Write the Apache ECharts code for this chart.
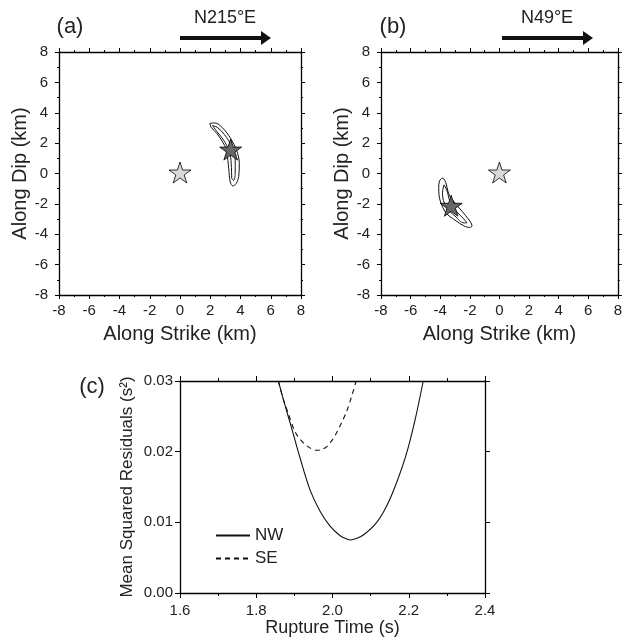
<!DOCTYPE html>
<html>
<head>
<meta charset="utf-8">
<script src="https://cdn.jsdelivr.net/npm/echarts@6/dist/echarts.min.js"></script>
<style>
html,body{margin:0;padding:0;background:#fff;}
#chart{width:625px;height:641px;}
</style>
</head>
<body>
<div id="chart"></div>
<script>
// ---------- data ----------
const strikeRange = [-8, 8];
const dipRange = [-8, 8];
const spatialTickStep = 2;

// Panel (a): N215°E
const contourA_outerStrike = [1.98, 2.30, 2.80, 3.35, 3.75, 3.92, 3.88, 3.70, 3.50, 3.32, 3.22, 3.10, 2.95, 2.45, 2.05, 1.98];
const contourA_outerDip    = [3.30, 3.33, 3.02, 2.30, 1.50, 0.67, -0.20, -0.68, -0.82, -0.55, 0.35, 1.35, 1.85, 2.62, 3.05, 3.30];
const contourA_innerStrike = [2.15, 2.45, 2.95, 3.40, 3.65, 3.65, 3.55, 3.42, 3.40, 3.30, 2.95, 2.45, 2.15];
const contourA_innerDip    = [3.15, 3.05, 2.55, 1.80, 0.90, 0.00, -0.45, -0.30, 0.40, 1.30, 2.10, 2.75, 3.15];
const hypoA = [0, 0];
const bestA = [3.35, 1.51];

// Panel (b): N49°E
const contourB_outerStrike = [-3.88, -4.05, -4.10, -4.00, -3.60, -3.00, -2.40, -2.00, -1.85, -1.95, -2.30, -2.78, -3.20, -3.44, -3.62, -3.80, -3.88];
const contourB_outerDip    = [-0.30, -0.50, -1.00, -1.80, -2.60, -3.07, -3.45, -3.55, -3.45, -3.20, -2.75, -2.20, -1.70, -1.31, -0.60, -0.32, -0.30];
const contourB_innerStrike = [-3.75, -3.85, -3.60, -3.00, -2.40, -2.20, -2.40, -2.90, -3.35, -3.55, -3.75];
const contourB_innerDip    = [-0.75, -1.30, -2.20, -2.80, -3.25, -3.25, -3.00, -2.50, -1.80, -1.10, -0.75];
const hypoB = [0, 0];
const bestB = [-3.26, -2.19];

// Panel (c)
const timeRange = [1.6, 2.4];
const msrRange = [0, 0.03];
const nwTime = [1.858, 1.869, 1.880, 1.893, 1.915, 1.941, 1.967, 1.993, 2.020, 2.035, 2.048, 2.062, 2.081, 2.116, 2.142, 2.168, 2.195, 2.217, 2.238];
const nwMsr  = [0.0300, 0.0278, 0.0257, 0.0233, 0.0191, 0.0146, 0.0116, 0.0095, 0.0081, 0.0077, 0.0075, 0.0077, 0.0082, 0.0100, 0.0123, 0.0156, 0.0199, 0.0246, 0.0300];
const seTime = [1.858, 1.870, 1.884, 1.902, 1.924, 1.942, 1.958, 1.972, 1.985, 2.000, 2.011, 2.024, 2.037, 2.049, 2.062];
const seMsr  = [0.0300, 0.0276, 0.0254, 0.0228, 0.0212, 0.0205, 0.0202, 0.0203, 0.0207, 0.0217, 0.0227, 0.0241, 0.0257, 0.0276, 0.0300];

const panelLabels = ['(a)', '(b)', '(c)'];
const azimuthLabels = ['N215°E', 'N49°E'];

// ---------- helpers ----------
const FONT = '"Liberation Sans", Arial, Helvetica, sans-serif';
const TXT = '#222';
const zip = (a, b) => a.map((v, i) => [v, b[i]]);
const STAR = 'path://M50,0 L61.23,34.55 L97.55,34.55 L68.17,55.9 L79.39,90.45 L50,69.1 L20.61,90.45 L31.83,55.9 L2.45,34.55 L38.77,34.55 Z';

const lineCommon = {color: '#000', width: 1.3};

function spatialX(grid, pos, withLabel) {
  return {
    gridIndex: grid, type: 'value', position: pos,
    min: strikeRange[0], max: strikeRange[1], interval: spatialTickStep,
    axisLine: {show: true, onZero: false, lineStyle: lineCommon},
    axisTick: {show: true, inside: false, length: 4, lineStyle: {color: '#000', width: 1}},
    minorTick: {show: true, splitNumber: 2, length: 2, lineStyle: {color: '#000', width: 1}},
    splitLine: {show: false},
    axisLabel: {show: withLabel, margin: 8, fontSize: 15, color: TXT, fontFamily: FONT},
    name: withLabel ? 'Along Strike (km)' : '',
    nameLocation: 'middle', nameGap: 29,
    nameTextStyle: {fontSize: 20, color: TXT, fontFamily: FONT}
  };
}
function spatialY(grid, pos, withLabel) {
  return {
    gridIndex: grid, type: 'value', position: pos,
    min: dipRange[0], max: dipRange[1], interval: spatialTickStep,
    axisLine: {show: true, onZero: false, lineStyle: lineCommon},
    axisTick: {show: true, inside: false, length: 4, lineStyle: {color: '#000', width: 1}},
    minorTick: {show: true, splitNumber: 2, length: 2, lineStyle: {color: '#000', width: 1}},
    splitLine: {show: false},
    axisLabel: {show: withLabel, margin: 11, fontSize: 15, color: TXT, fontFamily: FONT},
    name: withLabel ? 'Along Dip (km)' : '',
    nameLocation: 'middle', nameGap: 28,
    nameTextStyle: {fontSize: 20, color: TXT, fontFamily: FONT}
  };
}
function timeX(pos, withLabel) {
  return {
    gridIndex: 2, type: 'value', position: pos,
    min: timeRange[0], max: timeRange[1], interval: 0.2,
    axisLine: {show: true, onZero: false, lineStyle: lineCommon},
    axisTick: {show: true, inside: false, length: 5, lineStyle: {color: '#000', width: 1}},
    minorTick: {show: true, splitNumber: 2, length: 3, lineStyle: {color: '#000', width: 1}},
    splitLine: {show: false},
    axisLabel: {show: withLabel, margin: 10, fontSize: 15, color: TXT, fontFamily: FONT,
      formatter: v => v.toFixed(1)},
    name: withLabel ? 'Rupture Time (s)' : '',
    nameLocation: 'middle', nameGap: 20,
    nameTextStyle: {fontSize: 18, color: TXT, fontFamily: FONT}
  };
}
function msrY(pos, withLabel) {
  return {
    gridIndex: 2, type: 'value', position: pos,
    min: msrRange[0], max: msrRange[1], interval: 0.01,
    axisLine: {show: true, onZero: false, lineStyle: lineCommon},
    axisTick: {show: true, inside: false, length: 5, lineStyle: {color: '#000', width: 1}},
    splitLine: {show: false},
    axisLabel: {show: withLabel, margin: 7, fontSize: 15, color: TXT, fontFamily: FONT,
      formatter: v => v.toFixed(2)},
    name: withLabel ? 'Mean Squared Residuals (s²)' : '',
    nameLocation: 'middle', nameGap: 44,
    nameTextStyle: {fontSize: 17, color: TXT, fontFamily: FONT}
  };
}

function contour(xi, xs, ys) {
  return {
    type: 'line', xAxisIndex: xi, yAxisIndex: xi, data: zip(xs, ys),
    symbol: 'none', smooth: 0.35, silent: true, z: 2,
    lineStyle: {color: '#111', width: 1}
  };
}
function star(xi, pt, fill) {
  return {
    type: 'scatter', xAxisIndex: xi, yAxisIndex: xi, data: [pt],
    symbol: STAR, symbolSize: [22, 21], symbolOffset: [0, -1], z: 4,
    itemStyle: {color: fill, borderColor: '#000', borderWidth: 0.8, opacity: 1}
  };
}

function arrow(x1, x2, y) {
  return [
    {type: 'line', shape: {x1: x1, y1: y, x2: x2 - 8, y2: y}, style: {stroke: '#111', lineWidth: 4}},
    {type: 'polygon', shape: {points: [[x2 - 10, y - 7], [x2, y], [x2 - 10, y + 7]]}, style: {fill: '#111'}}
  ];
}
function label(text, x, y, size) {
  return {type: 'text', x: x, y: y,
    style: {text: text, align: 'center', verticalAlign: 'middle', font: size + 'px ' + FONT, fill: TXT}};
}

const option = {
  animation: false,
  backgroundColor: '#fff',
  grid: [
    {left: 59, top: 52, width: 242, height: 243},
    {left: 381, top: 52, width: 242, height: 243},
    {left: 180, top: 381, width: 305, height: 212}
  ],
  xAxis: [
    spatialX(0, 'bottom', true), spatialX(0, 'top', false),
    spatialX(1, 'bottom', true), spatialX(1, 'top', false),
    timeX('bottom', true), timeX('top', false)
  ],
  yAxis: [
    spatialY(0, 'left', true), spatialY(0, 'right', false),
    spatialY(1, 'left', true), spatialY(1, 'right', false),
    msrY('left', true), msrY('right', false)
  ],
  legend: {
    data: ['NW', 'SE'], orient: 'vertical', left: 210, top: 522,
    itemWidth: 34, itemHeight: 14, itemGap: 6,
    itemStyle: {opacity: 0},
    textStyle: {fontSize: 17, color: TXT, fontFamily: FONT},
    selectedMode: false
  },
  series: [
    contour(0, contourA_outerStrike, contourA_outerDip),
    contour(0, contourA_innerStrike, contourA_innerDip),
    star(0, hypoA, '#d9d9d9'),
    star(0, bestA, '#666666'),
    contour(2, contourB_outerStrike, contourB_outerDip),
    contour(2, contourB_innerStrike, contourB_innerDip),
    star(2, hypoB, '#d9d9d9'),
    star(2, bestB, '#666666'),
    {name: 'NW', type: 'line', xAxisIndex: 4, yAxisIndex: 4, data: zip(nwTime, nwMsr),
      symbol: 'none', smooth: 0.3, clip: true, itemStyle: {color: '#111'},
      lineStyle: {color: '#111', width: 1.1, type: 'solid'}},
    {name: 'SE', type: 'line', xAxisIndex: 4, yAxisIndex: 4, data: zip(seTime, seMsr),
      symbol: 'none', smooth: 0.3, clip: true, itemStyle: {color: '#111'},
      lineStyle: {color: '#111', width: 1.1, type: [5, 4]}}
  ],
  graphic: [
    label(panelLabels[0], 70, 27, 22),
    label(azimuthLabels[0], 225, 18, 18),
    ...arrow(180, 271, 38),
    label(panelLabels[1], 393, 27, 22),
    label(azimuthLabels[1], 547, 18, 18),
    ...arrow(502, 593, 38),
    label(panelLabels[2], 92, 387, 22)
  ]
};

const chart = echarts.init(document.getElementById('chart'), null, {renderer: 'canvas'});
chart.setOption(option);
</script>
</body>
</html>
